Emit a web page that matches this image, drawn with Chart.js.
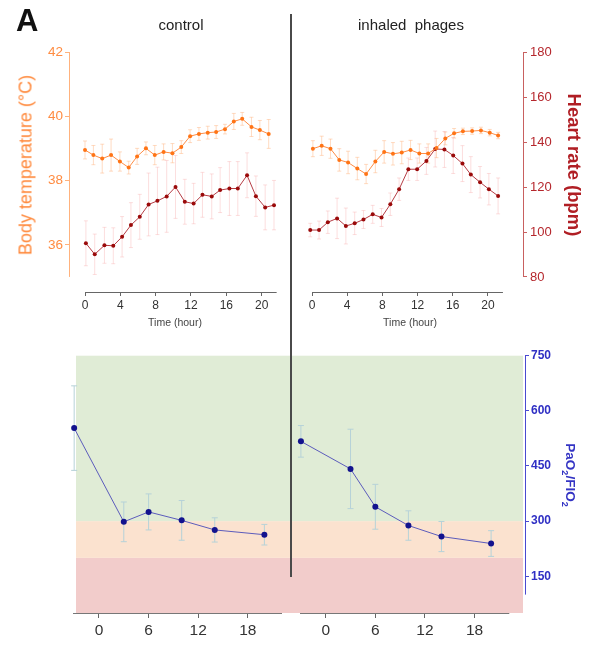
<!DOCTYPE html>
<html>
<head>
<meta charset="utf-8">
<script src="https://cdn.jsdelivr.net/npm/chart.js@4.4.1/dist/chart.umd.min.js"></script>
<style>
  body { margin: 0; background: #fff; font-family: "Liberation Sans", Arial, sans-serif; }
  #wrap { position: relative; width: 592px; height: 645px; overflow: hidden; }
  canvas { position: absolute; }
  .lbl { position: absolute; white-space: nowrap; }
  .up { transform: translate(-50%, -50%) rotate(-90deg); }
  .down { transform: translate(-50%, -50%) rotate(90deg); }
  #divider { position: absolute; left: 290px; top: 14px; width: 1.5px; height: 563px; background: #4a4a4a; z-index: 5; }
</style>
</head>
<body>
<div id="wrap">
  <canvas id="topLeft" width="292" height="340" style="left:0;top:0"></canvas>
  <canvas id="topRight" width="300" height="340" style="left:292px;top:0"></canvas>
  <canvas id="botLeft" width="292" height="305" style="left:0;top:340px"></canvas>
  <canvas id="botRight" width="300" height="305" style="left:292px;top:340px"></canvas>
  <div id="divider"></div>
  <div class="lbl" style="left:16px;top:5px;font-size:31px;line-height:1;font-weight:bold;color:#111">A</div>
  <div class="lbl" style="left:181px;top:24px;transform:translate(-50%,-50%);font-size:15px;color:#222">control</div>
  <div class="lbl" style="left:411px;top:24px;transform:translate(-50%,-50%);font-size:15px;color:#222">inhaled&nbsp; phages</div>
  <div class="lbl up" style="left:26px;top:165px;font-size:18px;color:#ff8a3d">Body temperature (°C)</div>
  <div class="lbl down" style="left:574px;top:165px;font-size:18.5px;font-weight:bold;color:#b01e24">Heart rate (bpm)</div>
  <div class="lbl down" style="left:569px;top:475px;font-size:13.5px;font-weight:bold;color:#3434c4">PaO<sub style="font-size:9px">2</sub>/FIO<sub style="font-size:9px">2</sub></div>
</div>
<script>
const FONT = '"Liberation Sans", Arial, sans-serif';

// top panels: hours, body temperature (°C) and heart rate (bpm)
const ctrlTempHours = [0, 0.95, 1.95, 2.95, 3.95, 4.95, 5.9, 6.9, 7.9, 8.9, 9.9, 10.9, 11.9, 12.9, 13.9, 14.85, 15.85, 16.85, 17.8, 18.85, 19.8, 20.8];
const ctrlTemp = [38.96, 38.80, 38.69, 38.80, 38.60, 38.41, 38.76, 39.01, 38.80, 38.90, 38.86, 39.05, 39.39, 39.46, 39.50, 39.52, 39.61, 39.85, 39.93, 39.68, 39.58, 39.46];
const ctrlTempErr = [0.28, 0.3, 0.45, 0.5, 0.3, 0.2, 0.25, 0.2, 0.3, 0.25, 0.3, 0.2, 0.2, 0.2, 0.2, 0.2, 0.15, 0.25, 0.2, 0.3, 0.3, 0.45];

const ctrlHrHours = [0.1, 1.1, 2.2, 3.2, 4.2, 5.2, 6.2, 7.2, 8.2, 9.25, 10.25, 11.3, 12.3, 13.3, 14.35, 15.3, 16.35, 17.3, 18.35, 19.35, 20.4, 21.4];
const ctrlHr = [95.0, 90.1, 94.1, 93.9, 97.9, 103.1, 106.8, 112.3, 113.9, 115.9, 120.1, 113.5, 112.7, 116.6, 115.9, 118.7, 119.4, 119.4, 125.3, 116.0, 111.0, 112.0];
const ctrlHrErr = [10, 9, 8, 8, 9, 10, 10, 14, 15, 16, 14, 10, 9, 10, 10, 10, 12, 12, 10, 9, 10, 11];

const phageTempHours = [0.1, 1.1, 2.1, 3.1, 4.1, 5.15, 6.15, 7.2, 8.2, 9.2, 10.2, 11.2, 12.2, 13.2, 14.15, 15.15, 16.15, 17.15, 18.2, 19.2, 20.2, 21.15];
const phageTemp = [39.0, 39.09, 39.0, 38.65, 38.57, 38.38, 38.21, 38.60, 38.90, 38.84, 38.88, 38.96, 38.85, 38.85, 39.02, 39.32, 39.48, 39.54, 39.55, 39.57, 39.50, 39.41];
const phageTempErr = [0.25, 0.3, 0.3, 0.35, 0.35, 0.35, 0.3, 0.35, 0.35, 0.35, 0.35, 0.3, 0.3, 0.3, 0.3, 0.2, 0.15, 0.1, 0.1, 0.1, 0.1, 0.1];

const phageHrHours = [-0.2, 0.8, 1.8, 2.85, 3.85, 4.85, 5.85, 6.9, 7.9, 8.9, 9.9, 10.95, 11.95, 13.0, 14.0, 15.05, 16.05, 17.1, 18.05, 19.1, 20.1, 21.15];
const phageHr = [100.9, 100.9, 104.4, 106.1, 102.7, 103.9, 105.6, 107.9, 106.5, 112.4, 119.1, 128.0, 128.0, 131.7, 137.0, 136.8, 134.1, 130.5, 125.6, 122.2, 119.1, 116.1];
const phageHrErr = [3, 4, 5, 9, 8, 5, 4, 4, 4, 5, 5, 5, 5, 6, 8, 8, 8, 8, 8, 7, 7, 8];

// bottom panels: PaO2/FIO2
const ctrlPfHours = [-3, 3, 6, 10, 14, 20];
const ctrlPf = [553, 298, 325, 302, 276, 263];
const ctrlPfErr = [115, 54, 49, 54, 33, 28];
const phagePfHours = [-3, 3, 6, 10, 14, 20];
const phagePf = [517, 442, 339, 288, 258, 239];
const phagePfErr = [43, 108, 61, 40, 41, 35];

// tick labels
const topHourTicks = [0, 4, 8, 12, 16, 20];
const tempTicks = [36, 38, 40, 42];
const hrTicks = [80, 100, 120, 140, 160, 180];
const botHourTicks = [0, 6, 12, 18];
const pfTicks = [150, 300, 450, 600, 750];

// severity bands (PaO2/FIO2 limits)
const bandEdges = [50, 200, 300, 750];
const bandColors = ['#f2cccb', '#fbe2cf', '#e0ecd6'];

const pts = (xs, ys) => xs.map((x, i) => ({ x: x, y: ys[i] }));

const errorBars = {
  id: 'errorBars',
  beforeDatasetsDraw(chart) {
    const ctx = chart.ctx;
    chart.data.datasets.forEach((ds, i) => {
      if (!ds.errors) return;
      const meta = chart.getDatasetMeta(i);
      const ys = chart.scales[ds.yAxisID];
      ctx.save();
      ctx.strokeStyle = ds.errorColor;
      ctx.lineWidth = 1;
      meta.data.forEach((pt, j) => {
        const v = ds.data[j].y, e = ds.errors[j];
        const y1 = ys.getPixelForValue(v - e), y2 = ys.getPixelForValue(v + e);
        const w = ds.capWidth;
        ctx.beginPath();
        ctx.moveTo(pt.x, y1); ctx.lineTo(pt.x, y2);
        ctx.moveTo(pt.x - w, y1); ctx.lineTo(pt.x + w, y1);
        ctx.moveTo(pt.x - w, y2); ctx.lineTo(pt.x + w, y2);
        ctx.stroke();
      });
      ctx.restore();
    });
  }
};

const axisLines = {
  id: 'axisLines',
  afterDraw(chart, args, opts) {
    const ctx = chart.ctx;
    (opts.lines || []).forEach(l => {
      const s = chart.scales[l.scale];
      const a = s.getPixelForValue(l.from), b = s.getPixelForValue(l.to);
      ctx.save();
      ctx.strokeStyle = l.color;
      ctx.lineWidth = 1;
      ctx.beginPath();
      if (s.isHorizontal()) {
        const y = s.top + 0.5;
        ctx.moveTo(a, y); ctx.lineTo(b, y);
      } else {
        const x = s.position === 'left' ? s.right - 0.5 : s.left + 0.5;
        ctx.moveTo(x, a); ctx.lineTo(x, b);
      }
      ctx.stroke();
      ctx.restore();
    });
  }
};

const bands = {
  id: 'bands',
  beforeDraw(chart, args, opts) {
    if (!opts.side) return;
    const { ctx, chartArea, width } = chart;
    const y = chart.scales.y;
    const x0 = opts.side === 'left' ? chartArea.left + 3 : 0;
    const x1 = opts.side === 'left' ? width : chartArea.right - 2;
    for (let i = 0; i < bandColors.length; i++) {
      const top = y.getPixelForValue(bandEdges[i + 1]);
      const bot = y.getPixelForValue(bandEdges[i]);
      ctx.fillStyle = bandColors[i];
      ctx.fillRect(x0, top, x1 - x0, bot - top);
    }
  }
};

function tickSetter(list) {
  return s => { s.ticks = list.map(v => ({ value: v })); };
}

// fixed box size, only for an axis that is shown
function fixWidth(show, w) {
  return s => { if (show) s.width = w; };
}

function topTimeAxis(min, max) {
  return {
    type: 'linear', position: 'bottom', min: min, max: max,
    afterBuildTicks: tickSetter(topHourTicks),
    afterFit: s => { s.height = 48; },
    border: { display: false },
    grid: { drawOnChartArea: false, drawTicks: true, tickLength: 4, color: '#666' },
    ticks: { color: '#333', font: { family: FONT, size: 12 }, padding: 2, maxRotation: 0 },
    title: { display: true, text: 'Time (hour)', color: '#444', font: { family: FONT, size: 10.5 }, padding: { top: 0, bottom: 10.5 } }
  };
}

function tempAxis(show) {
  return {
    type: 'linear', position: 'left', display: show, min: 34.53, max: 42,
    afterBuildTicks: tickSetter(tempTicks),
    afterFit: fixWidth(show, 70),
    border: { display: false },
    grid: { drawOnChartArea: false, tickLength: 5, color: '#ffb27d' },
    ticks: { color: '#ff8c42', font: { family: FONT, size: 13.5 }, padding: 2 }
  };
}

function hrAxis(show) {
  return {
    type: 'linear', position: 'right', display: show, min: 73.3, max: 180,
    afterBuildTicks: tickSetter(hrTicks),
    afterFit: fixWidth(show, 69),
    border: { display: false },
    grid: { drawOnChartArea: false, tickLength: 4, color: '#c86060' },
    ticks: { color: '#b5272d', font: { family: FONT, size: 13 }, padding: 3 }
  };
}

function tempSet(xs, ys, errs) {
  return {
    data: pts(xs, ys), yAxisID: 'yT', showLine: true, clip: false,
    borderColor: '#ff8d45', borderWidth: 1,
    pointRadius: 2, pointBackgroundColor: '#ff7416', pointBorderWidth: 0,
    errors: errs, errorColor: 'rgba(255,175,120,0.45)', capWidth: 2
  };
}

function hrSet(xs, ys, errs) {
  return {
    data: pts(xs, ys), yAxisID: 'yH', showLine: true, clip: false,
    borderColor: '#b63c44', borderWidth: 1,
    pointRadius: 2, pointBackgroundColor: '#9a0a0a', pointBorderWidth: 0,
    errors: errs, errorColor: 'rgba(245,160,160,0.35)', capWidth: 2
  };
}

function pfSet(xs, ys, errs) {
  return {
    data: pts(xs, ys), yAxisID: 'y', showLine: true, clip: false,
    borderColor: '#5c5cbc', borderWidth: 1,
    pointRadius: 3, pointBackgroundColor: '#12128e', pointBorderWidth: 0,
    errors: errs, errorColor: '#b6d2d8', capWidth: 3
  };
}

const common = {
  responsive: false,
  animation: false,
  devicePixelRatio: 1,
  plugins: { legend: { display: false }, tooltip: { enabled: false } }
};

// control, top
new Chart(document.getElementById('topLeft'), {
  type: 'scatter',
  data: { datasets: [tempSet(ctrlTempHours, ctrlTemp, ctrlTempErr), hrSet(ctrlHrHours, ctrlHr, ctrlHrErr)] },
  options: {
    ...common,
    layout: { padding: { top: 52.5, right: 12, left: 0, bottom: 0 } },
    scales: { x: topTimeAxis(-1.7, 22.08), yT: tempAxis(true), yH: hrAxis(false) },
    plugins: {
      ...common.plugins,
      axisLines: { lines: [
        { scale: 'x', from: 0, to: 21.7, color: '#666' },
        { scale: 'yT', from: 35, to: 42, color: '#ffb27d' }
      ] }
    }
  },
  plugins: [errorBars, axisLines]
});

// inhaled phages, top
new Chart(document.getElementById('topRight'), {
  type: 'scatter',
  data: { datasets: [tempSet(phageTempHours, phageTemp, phageTempErr), hrSet(phageHrHours, phageHr, phageHrErr)] },
  options: {
    ...common,
    layout: { padding: { top: 52.5, right: 0, left: 5, bottom: 0 } },
    scales: { x: topTimeAxis(-1.705, 23.98), yT: tempAxis(false), yH: hrAxis(true) },
    plugins: {
      ...common.plugins,
      axisLines: { lines: [
        { scale: 'x', from: 0, to: 21.7, color: '#666' },
        { scale: 'yH', from: 80, to: 180, color: '#c86060' }
      ] }
    }
  },
  plugins: [errorBars, axisLines]
});

function botTimeAxis(min, max) {
  return {
    type: 'linear', position: 'bottom', min: min, max: max,
    afterBuildTicks: tickSetter(botHourTicks),
    afterFit: s => { s.height = 32; },
    border: { display: false },
    grid: { drawOnChartArea: false, drawTicks: true, tickLength: 5, color: '#666' },
    ticks: { color: '#333', font: { family: FONT, size: 15.5 }, padding: 3, maxRotation: 0 }
  };
}

function pfAxis(show) {
  return {
    type: 'linear', position: 'right', display: show, min: 50, max: 750,
    afterBuildTicks: tickSetter(pfTicks),
    afterFit: fixWidth(show, 67),
    border: { display: false },
    grid: { drawOnChartArea: false, tickLength: 4, color: '#4a4ad0' },
    ticks: { color: '#2f2fc4', font: { family: FONT, size: 12, weight: 'bold' }, padding: 2 }
  };
}

// control, bottom
new Chart(document.getElementById('botLeft'), {
  type: 'scatter',
  data: { datasets: [pfSet(ctrlPfHours, ctrlPf, ctrlPfErr)] },
  options: {
    ...common,
    layout: { padding: { top: 15.7, right: 10, left: 73, bottom: 0 } },
    scales: { x: botTimeAxis(-3.14, 22.13), y: pfAxis(false) },
    plugins: {
      ...common.plugins,
      bands: { side: 'left' },
      axisLines: { lines: [{ scale: 'x', from: -3.14, to: 22.13, color: '#777' }] }
    }
  },
  plugins: [bands, errorBars, axisLines]
});

// inhaled phages, bottom
new Chart(document.getElementById('botRight'), {
  type: 'scatter',
  data: { datasets: [pfSet(phagePfHours, phagePf, phagePfErr)] },
  options: {
    ...common,
    layout: { padding: { top: 15.7, right: 0, left: 8, bottom: 0 } },
    scales: { x: botTimeAxis(-3.11, 24.1), y: pfAxis(true) },
    plugins: {
      ...common.plugins,
      bands: { side: 'right' },
      axisLines: { lines: [
        { scale: 'x', from: -3.11, to: 22.2, color: '#777' },
        { scale: 'y', from: 100, to: 750, color: '#4a4ad0' }
      ] }
    }
  },
  plugins: [bands, errorBars, axisLines]
});
</script>
</body>
</html>
